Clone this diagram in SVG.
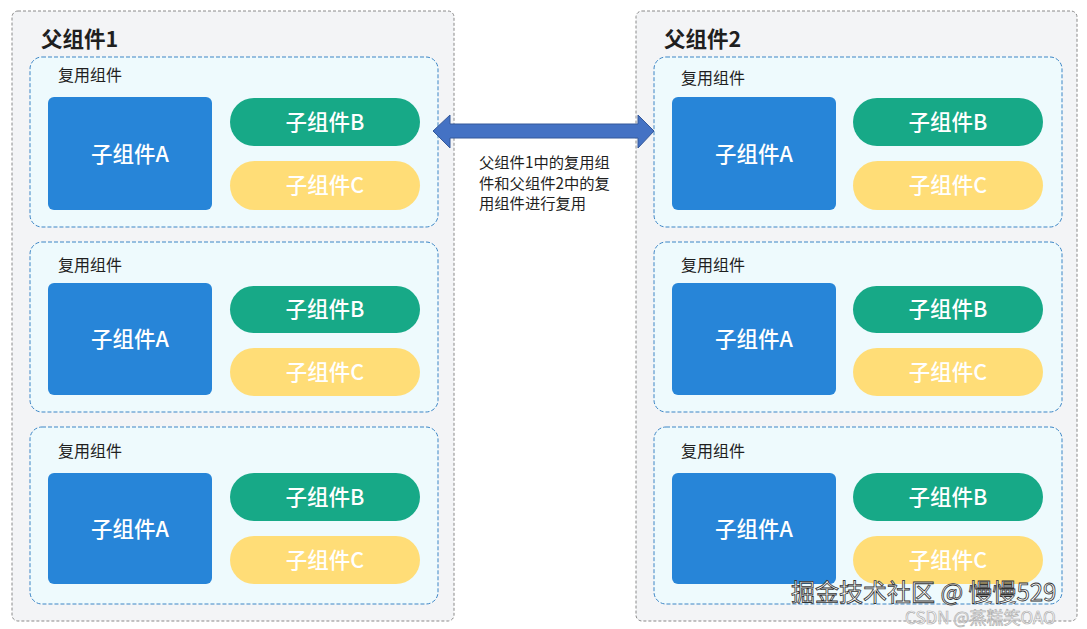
<svg xmlns="http://www.w3.org/2000/svg" width="1087" height="629" viewBox="0 0 1087 629">
<style>
.outer{fill:#f3f4f6;stroke:#8a8a8a;stroke-width:1;stroke-dasharray:3 2}
.inner{fill:#eefafd;stroke:#3d86c6;stroke-width:1;stroke-dasharray:4 2}
.a{fill:#2785d8}
.b{fill:#17a987}
.c{fill:#ffdd77}
text{font-family:"Noto Sans CJK SC","Noto Sans",sans-serif}
.title{font-size:21.5px;font-weight:bold;fill:#1f1f1f}
.lbl{font-size:16px;fill:#1f1f1f}
.w{font-size:21.5px;font-weight:500;fill:#ffffff;text-anchor:middle}
.note{font-size:15.3px;fill:#1f1f1f}
</style>
<rect width="1087" height="629" fill="#ffffff"/>
<g id="parent1">
<rect class="outer" x="12" y="11" width="442" height="610" rx="6"/>
<text class="title" x="41" y="47">父组件1</text>
</g>
<g id="parent2">
<rect class="outer" x="636" y="11" width="441" height="610" rx="6"/>
<text class="title" x="664" y="47">父组件2</text>
</g>
<g id="p1-reuse1">
<rect class="inner" x="30" y="57" width="408" height="170" rx="12"/>
<text class="lbl" x="58" y="81">复用组件</text>
<rect class="a" x="48" y="97" width="164" height="113" rx="6"/><text class="w" x="130" y="162">子组件A</text>
<rect class="b" x="230" y="98" width="190" height="48" rx="24"/><text class="w" x="325" y="130">子组件B</text>
<rect class="c" x="230" y="161" width="190" height="49" rx="24.5"/><text class="w" x="325" y="193">子组件C</text>
</g>
<g id="p1-reuse2">
<rect class="inner" x="30" y="242" width="408" height="170" rx="12"/>
<text class="lbl" x="58" y="271">复用组件</text>
<rect class="a" x="48" y="283" width="164" height="112" rx="6"/><text class="w" x="130" y="347">子组件A</text>
<rect class="b" x="230" y="286" width="190" height="47" rx="23.5"/><text class="w" x="325" y="317">子组件B</text>
<rect class="c" x="230" y="348" width="190" height="48" rx="24"/><text class="w" x="325" y="380">子组件C</text>
</g>
<g id="p1-reuse3">
<rect class="inner" x="30" y="427" width="408" height="177" rx="12"/>
<text class="lbl" x="58" y="457">复用组件</text>
<rect class="a" x="48" y="473" width="164" height="111" rx="6"/><text class="w" x="130" y="537">子组件A</text>
<rect class="b" x="230" y="473" width="190" height="48" rx="24"/><text class="w" x="325" y="505">子组件B</text>
<rect class="c" x="230" y="536" width="190" height="48" rx="24"/><text class="w" x="325" y="568">子组件C</text>
</g>
<g id="p2-reuse1">
<rect class="inner" x="654" y="57" width="408" height="170" rx="12"/>
<text class="lbl" x="681" y="84">复用组件</text>
<rect class="a" x="672" y="97" width="164" height="113" rx="6"/><text class="w" x="754" y="162">子组件A</text>
<rect class="b" x="853" y="98" width="190" height="48" rx="24"/><text class="w" x="948" y="130">子组件B</text>
<rect class="c" x="853" y="161" width="190" height="49" rx="24.5"/><text class="w" x="948" y="193">子组件C</text>
</g>
<g id="p2-reuse2">
<rect class="inner" x="654" y="242" width="408" height="170" rx="12"/>
<text class="lbl" x="681" y="271">复用组件</text>
<rect class="a" x="672" y="283" width="164" height="112" rx="6"/><text class="w" x="754" y="347">子组件A</text>
<rect class="b" x="853" y="286" width="190" height="47" rx="23.5"/><text class="w" x="948" y="317">子组件B</text>
<rect class="c" x="853" y="348" width="190" height="48" rx="24"/><text class="w" x="948" y="380">子组件C</text>
</g>
<g id="p2-reuse3">
<rect class="inner" x="654" y="427" width="408" height="177" rx="12"/>
<text class="lbl" x="681" y="457">复用组件</text>
<rect class="a" x="672" y="473" width="164" height="111" rx="6"/><text class="w" x="754" y="537">子组件A</text>
<rect class="b" x="853" y="473" width="190" height="48" rx="24"/><text class="w" x="948" y="505">子组件B</text>
<rect class="c" x="853" y="536" width="190" height="48" rx="24"/><text class="w" x="948" y="568">子组件C</text>
</g>
<g id="connectors">
<path d="M433,131 L450,115 L450,124 L638,124 L638,115 L654,131 L638,148 L638,138 L450,138 L450,148 Z" fill="#4472c4" stroke="#35599a" stroke-width="1"/>
<text class="note" x="479" y="168">父组件1中的复用组</text>
<text class="note" x="479" y="188.5">件和父组件2中的复</text>
<text class="note" x="479" y="209">用组件进行复用</text>
</g>
<g id="watermark">
<text x="791" y="601" font-size="24" fill="#ffffff" stroke="#333333" stroke-width="0.8" style="font-family:'Noto Sans CJK SC',sans-serif">掘金技术社区 @ 慢慢529</text>
<text x="905" y="624" font-size="17" fill="#ffffff" stroke="#b0b0b0" stroke-width="0.7" style="font-family:'Noto Sans CJK SC',sans-serif">CSDN @蒸糕笑OAO</text>
</g>
</svg>
